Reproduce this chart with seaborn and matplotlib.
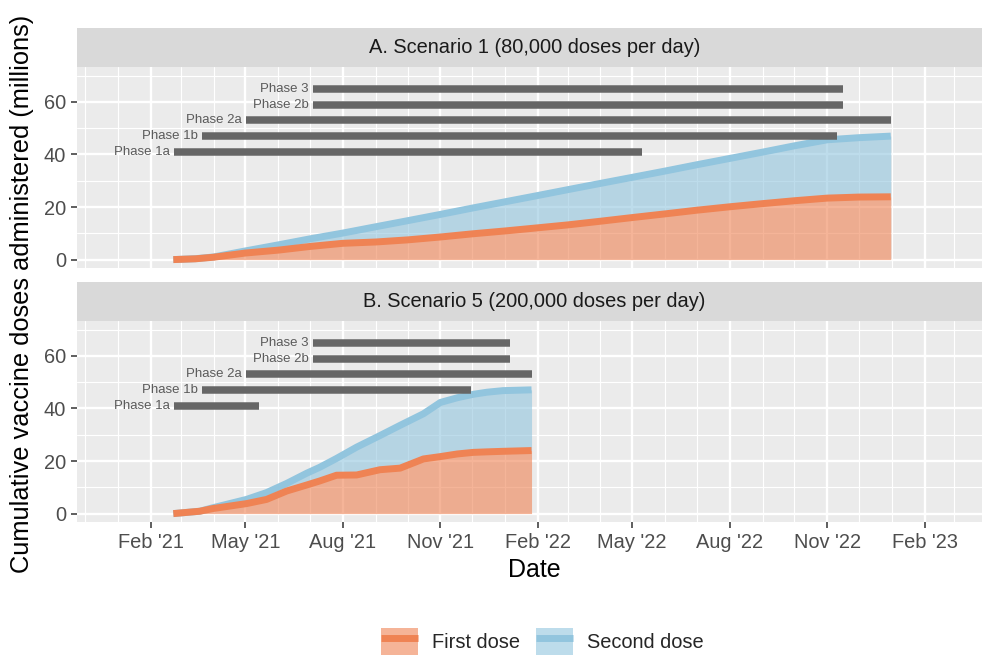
import numpy as np
import pandas as pd
import matplotlib
matplotlib.use("Agg")
import matplotlib.pyplot as plt
import matplotlib.dates as mdates
from matplotlib.ticker import FixedLocator, MultipleLocator
from matplotlib.patches import Patch
from matplotlib.lines import Line2D
import seaborn as sns

# ---------------- data ----------------
s1_dates = ["2021-02-22", "2021-03-15", "2021-04-01", "2021-05-01", "2021-06-01",
            "2021-07-01", "2021-08-01", "2021-09-01", "2021-10-01", "2021-11-01",
            "2021-12-01", "2022-01-01", "2022-02-01", "2022-03-01", "2022-04-01",
            "2022-05-01", "2022-06-01", "2022-07-01", "2022-08-01", "2022-09-01",
            "2022-10-01", "2022-11-01", "2022-12-01", "2022-12-31"]
s1_first = [0.0, 0.3, 0.9, 2.5, 3.6, 5.0, 6.2, 6.7, 7.5, 8.6,
            9.8, 10.9, 12.1, 13.2, 14.6, 16.0, 17.4, 18.8, 20.1, 21.3,
            22.4, 23.4, 23.8, 23.9]
s1_second = [0.0, 0.35, 1.0, 3.3, 5.6, 7.9, 10.1, 12.5, 14.8, 17.2,
             19.6, 22.0, 24.4, 26.6, 29.0, 31.3, 33.7, 36.1, 38.5, 40.9,
             43.3, 45.6, 46.4, 47.0]

s5_dates = ["2021-02-22", "2021-03-19", "2021-03-31", "2021-05-02", "2021-05-21",
            "2021-06-09", "2021-06-28", "2021-07-10", "2021-07-26", "2021-08-14",
            "2021-09-05", "2021-09-24", "2021-10-16", "2021-11-01", "2021-11-17",
            "2021-12-02", "2021-12-15", "2021-12-30", "2022-01-26"]
s5_first = [0.0, 0.9, 1.9, 3.8, 5.4, 8.6, 10.9, 12.4, 14.6, 14.7,
            16.7, 17.3, 20.8, 21.7, 22.7, 23.3, 23.5, 23.7, 24.0]
s5_second = [0.0, 0.9, 2.2, 5.4, 8.0, 11.5, 15.4, 17.6, 21.0, 25.3,
             29.7, 33.6, 38.0, 42.3, 44.1, 45.4, 46.2, 46.8, 47.1]

phase_names = ["Phase 1a", "Phase 1b", "Phase 2a", "Phase 2b", "Phase 3"]
phase_y = [41, 47, 53, 59, 65]
phase_start = ["2021-02-23", "2021-03-21", "2021-05-02", "2021-07-04", "2021-07-04"]
s1_phase_end = ["2022-05-10", "2022-11-10", "2022-12-31", "2022-11-16", "2022-11-16"]
s5_phase_end = ["2021-05-14", "2021-11-30", "2022-01-26", "2022-01-06", "2022-01-06"]

panel_titles = ["A. Scenario 1 (80,000 doses per day)",
                "B. Scenario 5 (200,000 doses per day)"]
x_ticks = ["2021-02-01", "2021-05-01", "2021-08-01", "2021-11-01", "2022-02-01",
           "2022-05-01", "2022-08-01", "2022-11-01", "2023-02-01"]
x_tick_labels = ["Feb '21", "May '21", "Aug '21", "Nov '21", "Feb '22",
                 "May '22", "Aug '22", "Nov '22", "Feb '23"]
y_ticks = [0, 20, 40, 60]
series_names = ["First dose", "Second dose"]

# ---------------- style ----------------
sns.set_theme(style="darkgrid")
plt.rcParams["font.family"] = ["Liberation Sans", "DejaVu Sans"]

ORANGE = "#EF8354"
BLUE = "#92C5DE"
BAR = "#666666"
PANEL_BG = "#EBEBEB"
STRIP_BG = "#D9D9D9"

W, H = 982, 655
fig = plt.figure(figsize=(W / 100, H / 100), dpi=100)

left = 77 / W
width = (992 - 77) / W
ph = 201 / H
sh = 39 / H

ax_top = fig.add_axes([left, 1 - 268 / H, width, ph])
ax_bot = fig.add_axes([left, 1 - 522 / H, width, ph])
st_top = fig.add_axes([left, 1 - 67 / H, width, sh])
st_bot = fig.add_axes([left, 1 - 321 / H, width, sh])

xlim = (pd.Timestamp("2020-11-23 02:00"), pd.Timestamp("2023-04-05 12:00"))
ylim = (-3.2, 73.3)


def draw(ax, dates, first, second, pend):
    d = pd.to_datetime(dates)
    ax.set_facecolor(PANEL_BG)
    ax.fill_between(d, 0, first, color=ORANGE, alpha=0.6, lw=0, zorder=2)
    ax.fill_between(d, first, second, color=BLUE, alpha=0.6, lw=0, zorder=2)
    df = pd.DataFrame({"date": d, "first": first, "second": second})
    sns.lineplot(data=df, x="date", y="second", color=BLUE, lw=5, ax=ax,
                 zorder=3, solid_capstyle="butt", solid_joinstyle="round")
    sns.lineplot(data=df, x="date", y="first", color=ORANGE, lw=5, ax=ax,
                 zorder=4, solid_capstyle="butt", solid_joinstyle="round")
    ps = pd.to_datetime(phase_start)
    pe = pd.to_datetime(pend)
    ax.hlines(phase_y, ps, pe, color=BAR, lw=5.4, zorder=5, capstyle="butt")
    for name, y, s in zip(phase_names, phase_y, ps):
        ax.text(s - pd.Timedelta(days=4), y, name, ha="right", va="center",
                fontsize=9.5, color="#5A5A5A", zorder=6)
    ax.set_xlim(*xlim)
    ax.set_ylim(*ylim)
    ax.xaxis.set_major_locator(FixedLocator(mdates.date2num(pd.to_datetime(x_ticks))))
    ax.xaxis.set_minor_locator(mdates.MonthLocator())
    ax.yaxis.set_major_locator(FixedLocator(y_ticks))
    ax.yaxis.set_minor_locator(MultipleLocator(10))
    ax.grid(which="major", color="white", lw=1.7, zorder=0)
    ax.grid(which="minor", color="white", lw=0.8, zorder=0)
    ax.set_axisbelow(True)
    for sp in ax.spines.values():
        sp.set_visible(False)
    ax.set_xlabel("")
    ax.set_ylabel("")
    ax.tick_params(which="minor", length=0)
    ax.tick_params(axis="y", which="major", length=4, width=1.1, color="#333333",
                   labelsize=14.4, labelcolor="#4D4D4D", pad=4, left=True)
    ax.set_yticklabels([str(v) for v in y_ticks])


draw(ax_top, s1_dates, s1_first, s1_second, s1_phase_end)
draw(ax_bot, s5_dates, s5_first, s5_second, s5_phase_end)

ax_top.tick_params(axis="x", which="both", length=0, labelbottom=False)
ax_bot.set_xticklabels(x_tick_labels)
ax_bot.tick_params(axis="x", which="major", length=4, width=1.1, color="#333333",
                   labelsize=14.4, labelcolor="#4D4D4D", pad=4, bottom=True)

for st, title in zip([st_top, st_bot], panel_titles):
    st.set_facecolor(STRIP_BG)
    st.set_xticks([])
    st.set_yticks([])
    st.grid(False)
    for sp in st.spines.values():
        sp.set_visible(False)
    st.text(0.5, 0.5, title, transform=st.transAxes, ha="center", va="center",
            fontsize=14.4, color="#1A1A1A")

fig.text(22 / W, 1 - 293.5 / H, "Cumulative vaccine doses administered (millions)",
         rotation=90, ha="center", va="center", fontsize=18.3, color="black")
fig.text(534.5 / W, 1 - 570 / H, "Date", ha="center", va="center",
         fontsize=18, color="black")

handles = [
    (Patch(facecolor=ORANGE, alpha=0.6, edgecolor="none"),
     Line2D([], [], color=ORANGE, lw=5, solid_capstyle="butt")),
    (Patch(facecolor=BLUE, alpha=0.6, edgecolor="none"),
     Line2D([], [], color=BLUE, lw=5, solid_capstyle="butt")),
]
fig.legend(handles, series_names, loc="center", bbox_to_anchor=(542 / W, 1 - 642 / H),
           ncol=2, frameon=False, fontsize=14.4, handlelength=1.85, handleheight=1.85,
           handletextpad=0.7, columnspacing=0.8, borderpad=0)

fig.savefig("out.png", dpi=100)
